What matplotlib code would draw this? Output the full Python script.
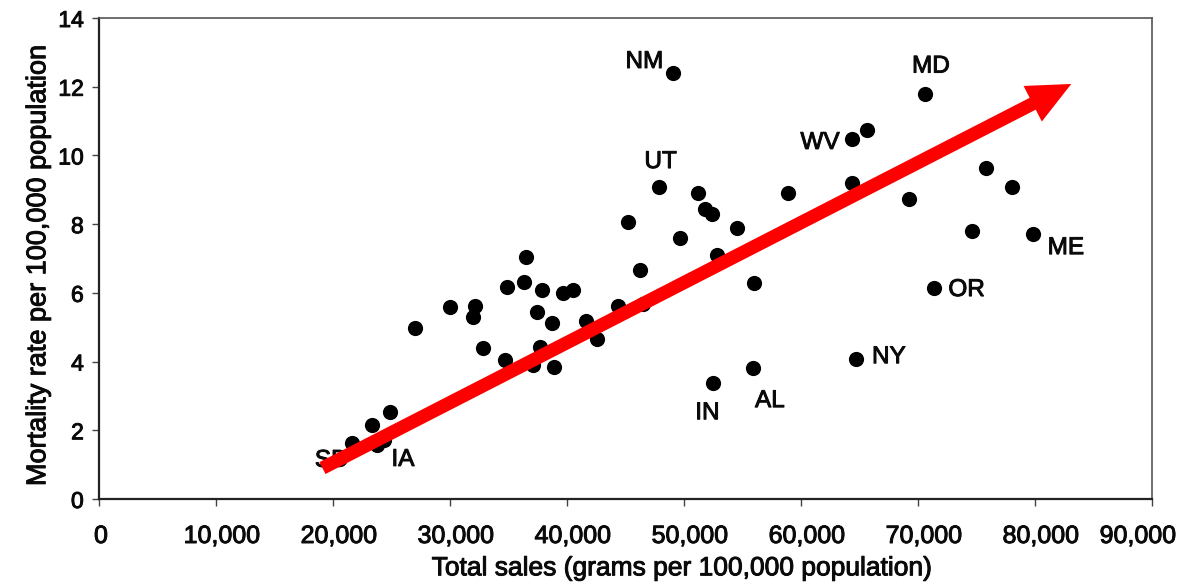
import matplotlib
matplotlib.use("Agg")
import matplotlib.pyplot as plt
import matplotlib.patheffects as pe
from matplotlib.ticker import FuncFormatter
from matplotlib.transforms import ScaledTranslation

plt.rcParams['font.family'] = ['Liberation Sans', 'DejaVu Sans']

# Total sales (grams per 100,000 population) - visible points
sales = [21600, 23300, 24900, 23800, 24400, 27000, 30000, 32100, 32000,
         32800, 34900, 34700, 36500, 36300, 37900, 37400, 39700, 40500, 38700,
         37700, 37100, 38900, 41600, 42600, 44400, 46500, 46200, 45200, 47900,
         51200, 51800, 52400, 49700, 54500, 52800, 56000, 58900, 52500, 55900,
         49100, 70600, 64400, 65600, 64400, 69200, 75800, 78000, 74600, 79800,
         71400, 64700]
# Mortality rate per 100,000 population
mortality = [1.63, 2.15, 2.53, 1.57, 1.72, 4.98, 5.59, 5.62, 5.30,
             4.39, 6.17, 4.05, 7.04, 6.32, 6.08, 5.44, 6.00, 6.08, 5.12,
             4.42, 3.90, 3.84, 5.18, 4.66, 5.62, 5.68, 6.66, 8.06, 9.08,
             8.90, 8.44, 8.29, 7.60, 7.90, 7.10, 6.28, 8.90, 3.37, 3.81,
             12.40, 11.80, 10.48, 10.74, 9.20, 8.73, 9.63, 9.08, 7.80, 7.71,
             6.14, 4.07]

# Labelled states (SD's point is hidden under the arrow tail)
state_labels = ["SD", "IA", "UT", "IN", "AL", "NM", "MD", "WV", "ME", "OR", "NY"]
state_sales = [20500, 24400, 47900, 52500, 55900, 49100, 70600, 64400, 79800, 71400, 64700]
state_mort = [1.20, 1.72, 9.08, 3.37, 3.81, 12.40, 11.80, 10.48, 7.71, 6.14, 4.07]
label_dx = [-24, 7, -15, -18, 2, -48, -13, -52, 15, 14, 16]
label_dy = [-3, -20, 25, -30, -33, 11, 27, -4, -14, -2, 2]

# Trend arrow endpoints (sales, mortality)
trend_start = [19100, 0.90]
trend_end = [83100, 12.08]

xticks = [0, 10000, 20000, 30000, 40000, 50000, 60000, 70000, 80000, 90000]
yticks = [0, 2, 4, 6, 8, 10, 12, 14]

TXT = '#0a0a0a'
thick = [pe.withStroke(linewidth=0.7, foreground=TXT)]

fig = plt.figure(figsize=(11.84, 5.86), dpi=100)
ax = fig.add_axes([99/1184, 1 - 499/586, (1152 - 99)/1184, (499 - 18)/586])

ax.scatter(sales, mortality, s=120, color='black', zorder=3, linewidths=0)

for lab, x, y, dx, dy in zip(state_labels, state_sales, state_mort, label_dx, label_dy):
    ax.annotate(lab, (x, y), xytext=(dx * 0.72, dy * 0.72), textcoords='offset points',
                ha='left', va='center', fontsize=17.5, color=TXT, zorder=4,
                path_effects=thick)

ax.annotate('', xy=trend_end, xytext=trend_start,
            arrowprops=dict(arrowstyle='simple,head_length=2.6,head_width=2.4,tail_width=0.8',
                            color='#ff0000', lw=0, shrinkA=0, shrinkB=0,
                            mutation_scale=12),
            zorder=5)

ax.set_xlim(0, 90000)
ax.set_ylim(0, 14)
ax.set_xticks(xticks)
ax.set_yticks(yticks)
ax.xaxis.set_major_formatter(FuncFormatter(lambda v, p: f"{int(v):,}"))
ax.tick_params(axis='both', color='#444444', length=5, width=1,
               direction='out', labelcolor=TXT)
ax.tick_params(axis='x', pad=13, labelsize=18)
ax.tick_params(axis='y', pad=6, labelsize=16.5)

fig.canvas.draw()
xlabels = ax.get_xticklabels()
for i, lbl in enumerate(xlabels):
    if i == 0:
        shift = 2
    elif i == len(xlabels) - 1:
        shift = -14
    else:
        shift = 6
    lbl.set_transform(lbl.get_transform() + ScaledTranslation(shift/100, 0, fig.dpi_scale_trans))
    lbl.set_path_effects(thick)
for lbl in ax.get_yticklabels():
    lbl.set_path_effects(thick)

for side in ['left', 'bottom']:
    ax.spines[side].set_linewidth(1.6)
    ax.spines[side].set_color('#222222')
for side in ['top', 'right']:
    ax.spines[side].set_linewidth(1.2)
    ax.spines[side].set_color('#555555')

ax.set_xlabel('Total sales (grams per 100,000 population)', fontsize=19, color=TXT,
              labelpad=6, path_effects=thick)
ax.xaxis.label.set_x((682 - 99) / 1053)
ax.set_ylabel('Mortality rate per 100,000 population', fontsize=19.5, color=TXT,
              labelpad=5, path_effects=thick)
ax.yaxis.label.set_y(1 - (265 - 18) / 481)

fig.savefig('out.png', dpi=100, facecolor='white')
